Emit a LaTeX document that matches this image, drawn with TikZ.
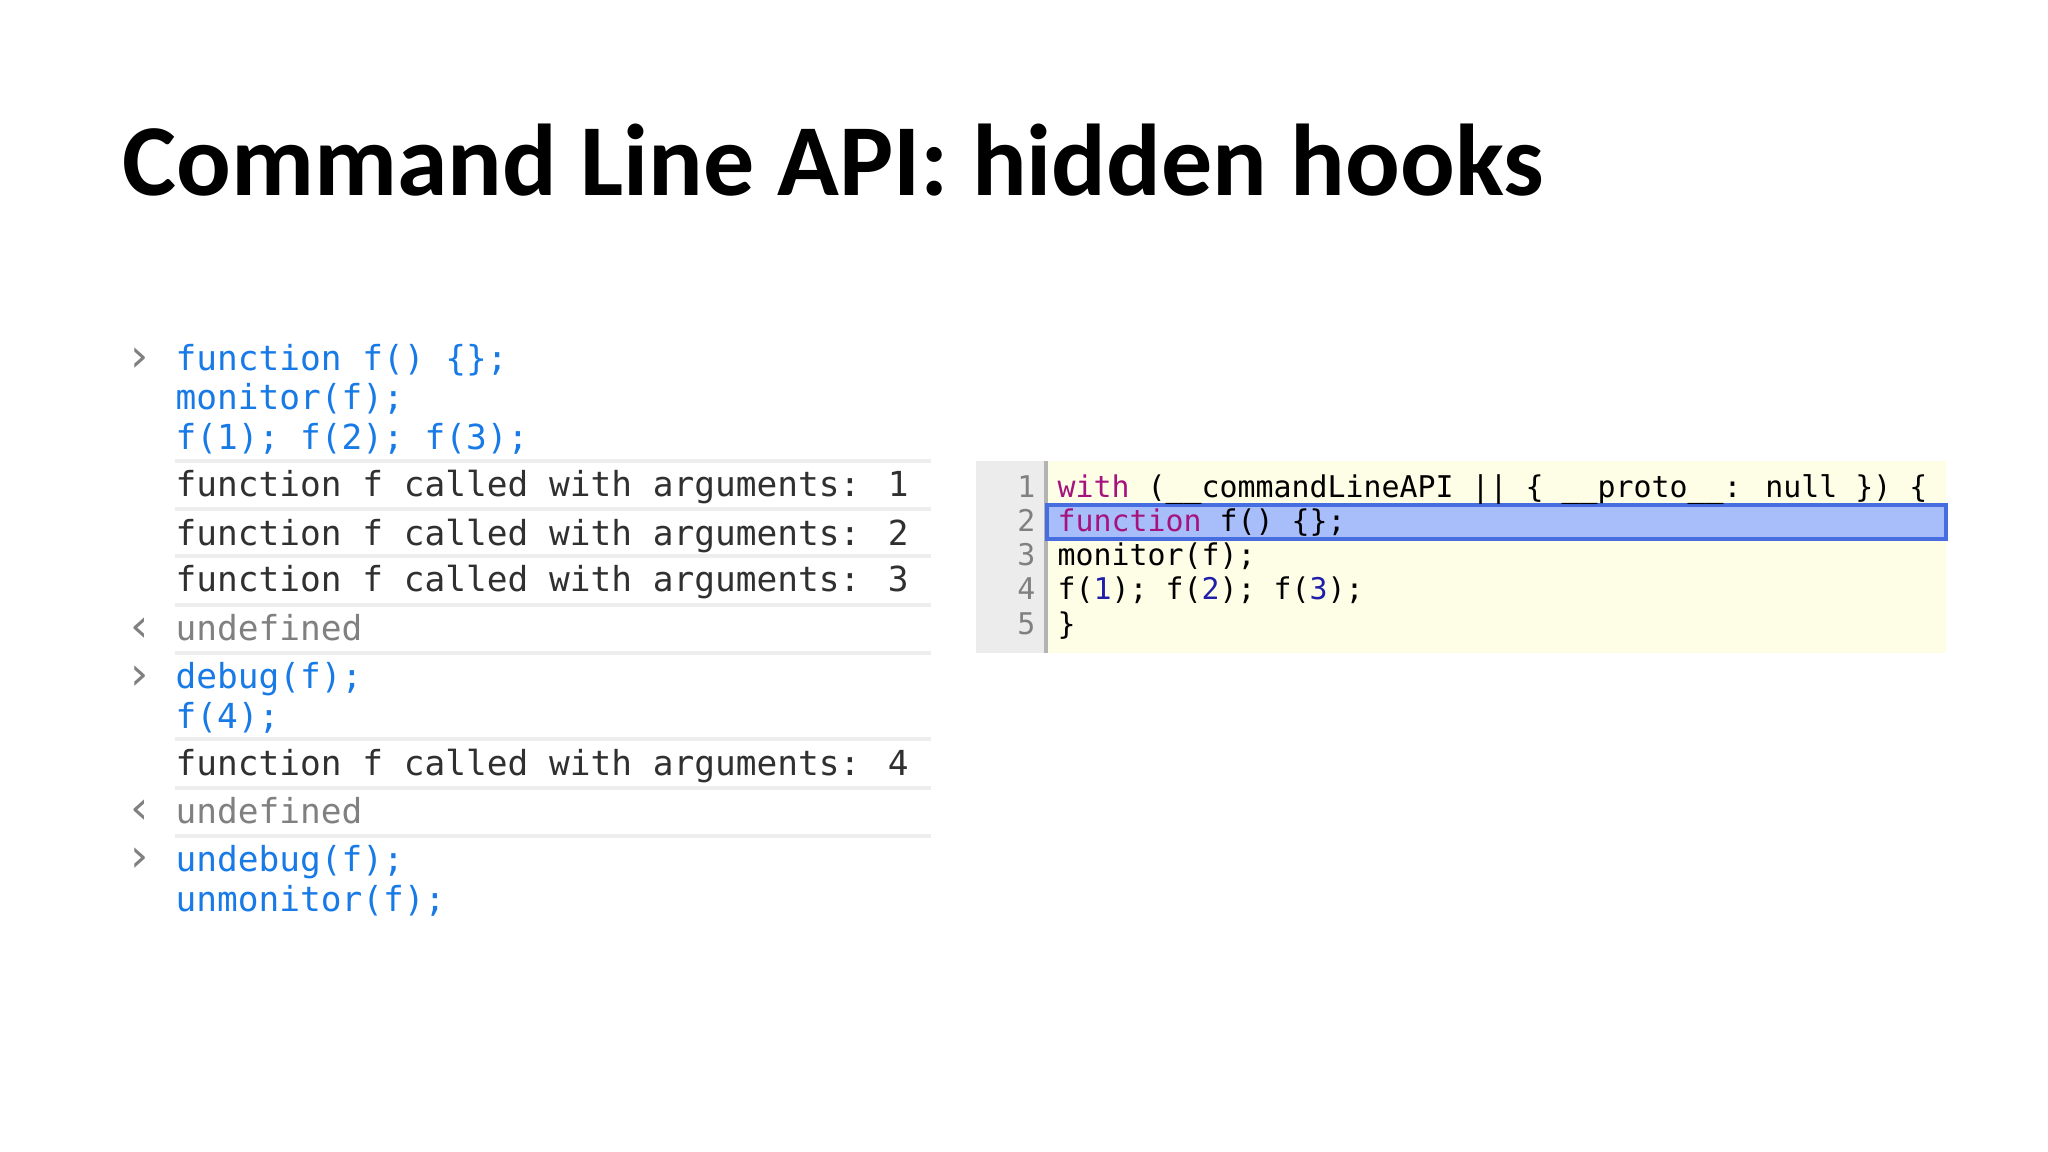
\documentclass[tikz,border=0pt]{standalone}
\usepackage{fontspec}
\setmainfont{Carlito}
\newfontfamily\cmono{DejaVu Sans Mono}
\newfontfamily\djsans{DejaVu Sans}
\definecolor{inblue}{RGB}{24,122,230}
\definecolor{outgray}{RGB}{48,48,48}
\definecolor{undgray}{RGB}{128,128,128}
\definecolor{sepgray}{RGB}{238,238,238}
\definecolor{panelbg}{RGB}{254,254,230}
\definecolor{guttbg}{RGB}{236,236,236}
\definecolor{hlfill}{RGB}{168,190,250}
\definecolor{hlline}{RGB}{70,110,225}
\definecolor{kw}{RGB}{165,20,125}
\definecolor{num}{RGB}{30,30,170}
\tikzset{
 con/.style={anchor=base west,inner sep=0pt,font=\cmono\fontsize{9.8pt}{12pt}\selectfont},
 cin/.style={con,text=inblue},
 cout/.style={con,text=outgray},
 cund/.style={con,text=undgray},
 ed/.style={anchor=base west,inner sep=0pt,font=\cmono\fontsize{8.5pt}{10pt}\selectfont,text=black},
 lnum/.style={anchor=base east,inner sep=0pt,font=\cmono\fontsize{8.5pt}{10pt}\selectfont,text=undgray},
 pr/.style={anchor=center,inner sep=0pt,font=\djsans\fontsize{13pt}{14pt}\selectfont,text=undgray},
 sep/.style={draw=sepgray,line width=1.2pt}
}
\begin{document}
\begin{tikzpicture}[x=0.01cm,y=-0.01cm]
\useasboundingbox (0,0) rectangle (2048,1152);
\fill[white] (0,0) rectangle (2048,1152);
\node[anchor=base west,inner sep=0pt,font=\bfseries\fontsize{29pt}{33pt}\selectfont] (title) at (122,196) {Command Line API: hidden hooks};
% console
\node[pr] (p1) at (140,360) {›};
\node[cin] (c1) at (175,371) {function f() \{\};};
\node[cin] (c2) at (175,410) {monitor(f);};
\node[cin] (c3) at (175,450) {f(1); f(2); f(3);};
\coordinate (s0l) at (175,461); \coordinate (s0r) at (931,461);
\draw[sep] (s0l) -- (s0r);
\node[cout] (o1) at (175,497) {function f called with arguments: 1};
\coordinate (s1l) at (175,509); \coordinate (s1r) at (931,509);
\draw[sep] (s1l) -- (s1r);
\node[cout] (o2) at (175,545) {function f called with arguments: 2};
\coordinate (s2l) at (175,556); \coordinate (s2r) at (931,556);
\draw[sep] (s2l) -- (s2r);
\node[cout] (o3) at (175,592) {function f called with arguments: 3};
\coordinate (s3l) at (175,605); \coordinate (s3r) at (931,605);
\draw[sep] (s3l) -- (s3r);
\node[pr] (r1) at (140,630) {‹};
\node[cund] (u1) at (175,640) {undefined};
\coordinate (s4l) at (175,653); \coordinate (s4r) at (931,653);
\draw[sep] (s4l) -- (s4r);
\node[pr] (p2) at (140,678) {›};
\node[cin] (d1) at (175,689) {debug(f);};
\node[cin] (d2) at (175,728) {f(4);};
\coordinate (s5l) at (175,739); \coordinate (s5r) at (931,739);
\draw[sep] (s5l) -- (s5r);
\node[cout] (o4) at (175,775) {function f called with arguments: 4};
\coordinate (s6l) at (175,788); \coordinate (s6r) at (931,788);
\draw[sep] (s6l) -- (s6r);
\node[pr] (r2) at (140,812) {‹};
\node[cund] (u2) at (175,823) {undefined};
\coordinate (s7l) at (175,836); \coordinate (s7r) at (931,836);
\draw[sep] (s7l) -- (s7r);
\node[pr] (p3) at (140,860) {›};
\node[cin] (e1) at (175,871) {undebug(f);};
\node[cin] (e2) at (175,911) {unmonitor(f);};
% editor panel
\fill[panelbg] (1046,461) rectangle (1946,653);
\fill[guttbg] (976,461) rectangle (1046,653);
\draw[undgray!60,line width=1pt] (1046,461) -- (1046,653);
\fill[hlfill] (1047,505) rectangle (1946,539);
\draw[hlline,line width=1pt] (1047,505) rectangle (1946,539);
\node[lnum] (n1) at (1036,498) {1};
\node[lnum] (n2) at (1036,532) {2};
\node[lnum] (n3) at (1036,566) {3};
\node[lnum] (n4) at (1036,600) {4};
\node[lnum] (n5) at (1036,634) {5};
\node[ed] (l1) at (1057,498) {\textcolor{kw}{with} (\_\_commandLineAPI || \{ \_\_proto\_\_: null \}) \{};
\node[ed] (l2) at (1057,532) {\textcolor{kw}{function} f() \{\};};
\node[ed] (l3) at (1057,566) {monitor(f);};
\node[ed] (l4) at (1057,600) {f(\textcolor{num}{1}); f(\textcolor{num}{2}); f(\textcolor{num}{3});};
\node[ed] (l5) at (1057,634) {\}};
\end{tikzpicture}
\end{document}
